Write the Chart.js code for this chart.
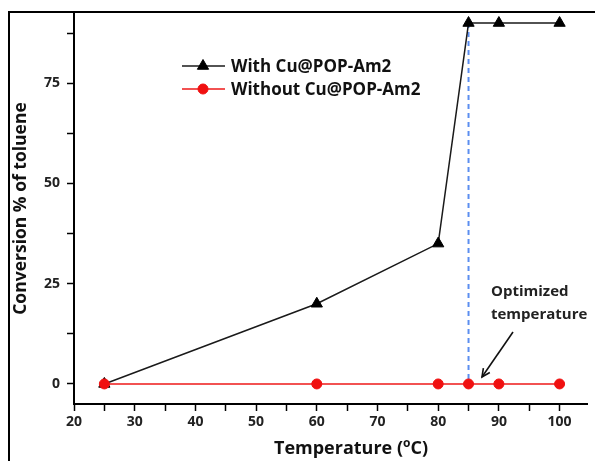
<!DOCTYPE html>
<html>
<head>
<meta charset="utf-8">
<script src="https://cdn.jsdelivr.net/npm/chart.js@4/dist/chart.umd.min.js"></script>
<style>
  html, body { margin: 0; padding: 0; background: #fff; }
  #wrap { width: 595px; height: 461px; position: relative; }
</style>
</head>
<body>
<div id="wrap"><canvas id="convChart" width="595" height="461"></canvas></div>
<script>
const temperatures = [25, 60, 80, 85, 90, 100];
const withCatalyst = [0, 20, 35, 90, 90, 90];
const withoutCatalyst = [0, 0, 0, 0, 0, 0];
const optimizedTemp = 85;
const optimizedTop = 90;
const xTickValues = [20, 25, 30, 35, 40, 45, 50, 55, 60, 65, 70, 75, 80, 85, 90, 95, 100];
const yTickValues = [0, 12.5, 25, 37.5, 50, 62.5, 75, 87.5];
const xLabelStep = 10;
const yLabelStep = 25;
const legendLabels = ["With Cu@POP-Am2", "Without Cu@POP-Am2"];

const FONT = "'Open Sans', 'DejaVu Sans', sans-serif";

function toPoints(xs, ys) {
  return xs.map((x, i) => ({ x: x, y: ys[i] }));
}

// frame, legend, arrow note and x title
const extras = {
  id: "extras",
  afterDraw(chart) {
    const c = chart.ctx;
    c.save();

    // outer frame (top + left)
    c.strokeStyle = "#000";
    c.lineWidth = 2;
    c.beginPath();
    c.moveTo(9, 461);
    c.lineTo(9, 12);
    c.lineTo(595, 12);
    c.stroke();

    // legend
    const ds = chart.data.datasets;
    [0, 1].forEach(function (i) {
      const d = ds[i];
      const y = 66 + i * 23;
      c.strokeStyle = d.borderColor;
      c.lineWidth = d.borderWidth;
      c.beginPath();
      c.moveTo(182, y);
      c.lineTo(225, y);
      c.stroke();
      c.fillStyle = d.pointBackgroundColor;
      c.strokeStyle = d.pointBorderColor;
      c.lineWidth = 1;
      Chart.helpers.drawPoint(c, {
        pointStyle: d.pointStyle,
        radius: d.pointRadius,
        borderWidth: 1
      }, 203, y);
      c.fillStyle = "#111";
      c.font = "bold 17px " + FONT;
      c.textBaseline = "middle";
      c.textAlign = "left";
      c.fillText(legendLabels[i], 231, y + 1);
    });

    // annotation text
    c.fillStyle = "#222";
    c.font = "bold 15px " + FONT;
    c.textBaseline = "middle";
    c.textAlign = "left";
    c.fillText("Optimized", 491, 292);
    c.fillText("temperature", 491, 315);

    // arrow
    const x1 = 513, y1 = 332, x2 = 482, y2 = 377;
    c.strokeStyle = "#111";
    c.lineWidth = 1.6;
    c.beginPath();
    c.moveTo(x1, y1);
    c.lineTo(x2, y2);
    c.stroke();
    const ang = Math.atan2(y2 - y1, x2 - x1);
    c.beginPath();
    c.moveTo(x2 - 9 * Math.cos(ang - 0.45), y2 - 9 * Math.sin(ang - 0.45));
    c.lineTo(x2, y2);
    c.lineTo(x2 - 9 * Math.cos(ang + 0.45), y2 - 9 * Math.sin(ang + 0.45));
    c.stroke();

    // x axis title with superscript
    c.fillStyle = "#111";
    c.textBaseline = "alphabetic";
    const t1 = "Temperature (";
    const sup = "o";
    const t2 = "C)";
    c.font = "bold 18px " + FONT;
    const w1 = c.measureText(t1).width;
    const w3 = c.measureText(t2).width;
    c.font = "bold 12px " + FONT;
    const w2 = c.measureText(sup).width;
    const total = w1 + w2 + w3;
    const tx = 351 - total / 2;
    const base = 454;
    c.font = "bold 18px " + FONT;
    c.fillText(t1, tx, base);
    c.font = "bold 12px " + FONT;
    c.fillText(sup, tx + w1, base - 7);
    c.font = "bold 18px " + FONT;
    c.fillText(t2, tx + w1 + w2, base);

    c.restore();
  }
};

new Chart(document.getElementById("convChart"), {
  type: "line",
  data: {
    datasets: [
      {
        label: legendLabels[0],
        data: toPoints(temperatures, withCatalyst),
        borderColor: "#1a1a1a",
        borderWidth: 1.5,
        pointStyle: "triangle",
        pointRadius: 6.5,
        pointBackgroundColor: "#000",
        pointBorderColor: "#000",
        pointBorderWidth: 1,
        tension: 0,
        order: 1
      },
      {
        label: legendLabels[1],
        data: toPoints(temperatures, withoutCatalyst),
        borderColor: "#f25252",
        borderWidth: 2,
        pointStyle: "circle",
        pointRadius: 5,
        pointBackgroundColor: "#f01010",
        pointBorderColor: "#f01010",
        pointBorderWidth: 1,
        tension: 0,
        order: 0
      },
      {
        label: "optimized",
        data: [{ x: optimizedTemp, y: optimizedTop }, { x: optimizedTemp, y: 0 }],
        borderColor: "#5b8ef0",
        borderWidth: 2,
        borderDash: [5, 4],
        pointRadius: 0,
        order: 2
      }
    ]
  },
  options: {
    responsive: false,
    animation: false,
    layout: { padding: { left: 0, right: 0, top: 13, bottom: 0 } },
    plugins: {
      legend: { display: false },
      tooltip: { enabled: false }
    },
    scales: {
      x: {
        type: "linear",
        min: 20,
        max: 104.6,
        afterBuildTicks: function (s) { s.ticks = xTickValues.map(v => ({ value: v })); },
        afterFit: function (s) {
          s.height = 57;
          s.paddingLeft = 0;
          s.paddingRight = 0;
        },
        ticks: {
          color: "#222",
          font: { family: FONT, size: 14, weight: "bold" },
          padding: 3,
          maxRotation: 0,
          autoSkip: false,
          callback: function (v) { return v % xLabelStep === 0 ? v : ""; }
        },
        grid: { drawOnChartArea: false, tickLength: 7, tickColor: "#000", tickWidth: 1.5 },
        border: { color: "#000", width: 2 }
      },
      y: {
        type: "linear",
        min: -5,
        max: 92.5,
        afterBuildTicks: function (s) { s.ticks = yTickValues.map(v => ({ value: v })); },
        afterFit: function (s) {
          s.width = 74;
          s.paddingTop = 0;
          s.paddingBottom = 0;
        },
        ticks: {
          color: "#222",
          font: { family: FONT, size: 14, weight: "bold" },
          padding: 7,
          autoSkip: false,
          callback: function (v) { return v % yLabelStep === 0 ? v : ""; }
        },
        grid: { drawOnChartArea: false, tickLength: 7, tickColor: "#000", tickWidth: 1.5 },
        border: { color: "#000", width: 2 },
        title: {
          display: true,
          text: "Conversion % of toluene",
          color: "#111",
          font: { family: FONT, size: 17.5, weight: "bold" },
          padding: { top: 11, bottom: 0 }
        }
      }
    }
  },
  plugins: [extras]
});
</script>
</body>
</html>
